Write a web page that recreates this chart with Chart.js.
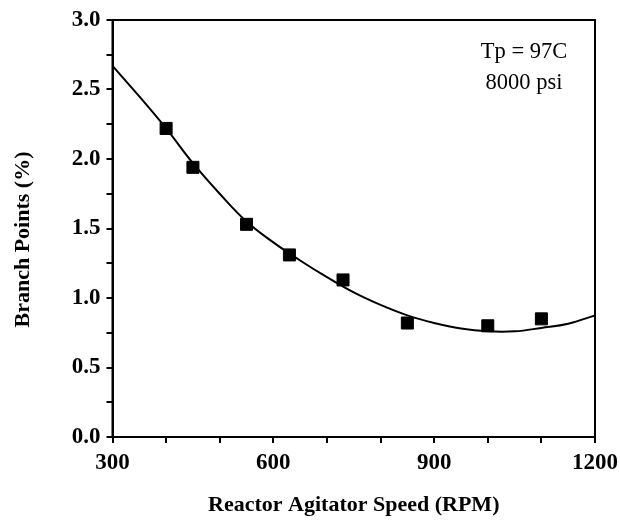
<!DOCTYPE html>
<html>
<head>
<meta charset="utf-8">
<script src="https://cdn.jsdelivr.net/npm/chart.js@4/dist/chart.umd.min.js"></script>
<style>
html,body{margin:0;padding:0;background:#fff;}
#wrap{position:relative;width:620px;height:523px;}
</style>
</head>
<body>
<div id="wrap"><canvas id="c" width="620" height="523"></canvas></div>
<script>
// Measured data points (RPM, branch points %)
const speedRPM = [400, 450, 550, 630, 730, 850, 1000, 1100];
const branchPct = [2.22, 1.94, 1.53, 1.31, 1.13, 0.82, 0.80, 0.85];
// Fitted curve
const fitRPM = [300, 350, 400, 450, 500, 550, 600, 650, 700, 750, 800, 850, 900, 950, 1000, 1050, 1100, 1150, 1200];
const fitPct = [2.67, 2.45, 2.22, 1.97, 1.75, 1.55, 1.40, 1.27, 1.15, 1.04, 0.95, 0.875, 0.82, 0.78, 0.76, 0.76, 0.785, 0.815, 0.875];
const xTickLabels = [300, 600, 900, 1200];
const yTickLabels = [0.0, 0.5, 1.0, 1.5, 2.0, 2.5, 3.0];
const noteLines = ["Tp = 97C", "8000 psi"];
const xTitle = "Reactor Agitator Speed (RPM)";
const yTitle = "Branch Points (%)";

const serif = "'Liberation Serif', 'Times New Roman', serif";

const frame = {
  id: 'frame',
  afterDraw(chart) {
    const {ctx, chartArea: a} = chart;
    ctx.save();
    ctx.strokeStyle = '#000';
    ctx.lineWidth = 2;
    ctx.strokeRect(a.left, a.top, a.right - a.left, a.bottom - a.top);
    ctx.fillStyle = '#000';
    ctx.font = "22.5px " + serif;
    ctx.textAlign = 'center';
    ctx.textBaseline = 'alphabetic';
    const cx = a.right - 71;
    ctx.fillText(noteLines[0], cx, a.top + 38);
    ctx.fillText(noteLines[1], cx, a.top + 69);
    ctx.restore();
  }
};

new Chart(document.getElementById('c'), {
  type: 'scatter',
  data: {
    datasets: [
      {
        type: 'line',
        data: fitRPM.map((x, i) => ({x, y: fitPct[i]})),
        borderColor: '#000',
        borderWidth: 2,
        pointRadius: 0,
        tension: 0.4,
        fill: false,
        order: 2
      },
      {
        data: speedRPM.map((x, i) => ({x, y: branchPct[i]})),
        pointStyle: 'rect',
        pointRadius: 8.5,
        backgroundColor: '#000',
        borderColor: '#000',
        borderWidth: 1,
        order: 1
      }
    ]
  },
  options: {
    responsive: false,
    animation: false,
    devicePixelRatio: 1,
    layout: {padding: {left: 10, right: 25, top: 20, bottom: 4}},
    plugins: {legend: {display: false}, tooltip: {enabled: false}},
    scales: {
      x: {
        type: 'linear', min: 300, max: 1200,
        border: {display: true, color: '#000', width: 2},
        grid: {drawOnChartArea: false, color: '#000', tickLength: 6, lineWidth: 2},
        ticks: {
          stepSize: 100, color: '#000', padding: 6, maxRotation: 0, autoSkip: false,
          font: {family: serif, size: 23, weight: 'bold'},
          callback: v => xTickLabels.includes(v) ? String(v) : ''
        },
        title: {display: true, text: xTitle, color: '#000', padding: {top: 10, bottom: 0},
          font: {family: serif, size: 22, weight: 'bold'}},
        afterFit: s => { s.height = 82; s.paddingRight = 0; s.paddingLeft = 0; }
      },
      y: {
        type: 'linear', min: 0, max: 3,
        border: {display: true, color: '#000', width: 2},
        grid: {drawOnChartArea: false, color: '#000', tickLength: 6, lineWidth: 2},
        ticks: {
          stepSize: 0.25, color: '#000', padding: 6, autoSkip: false,
          font: {family: serif, size: 23, weight: 'bold'},
          callback: v => yTickLabels.some(t => Math.abs(t - v) < 1e-9) ? v.toFixed(1) : ''
        },
        title: {display: true, text: yTitle + '    ', color: '#000', padding: {top: 0, bottom: 10},
          font: {family: serif, size: 22, weight: 'bold'}},
        afterFit: s => { s.width = 102.5; s.paddingTop = 0; s.paddingBottom = 0; }
      }
    }
  },
  plugins: [frame]
});
</script>
</body>
</html>
